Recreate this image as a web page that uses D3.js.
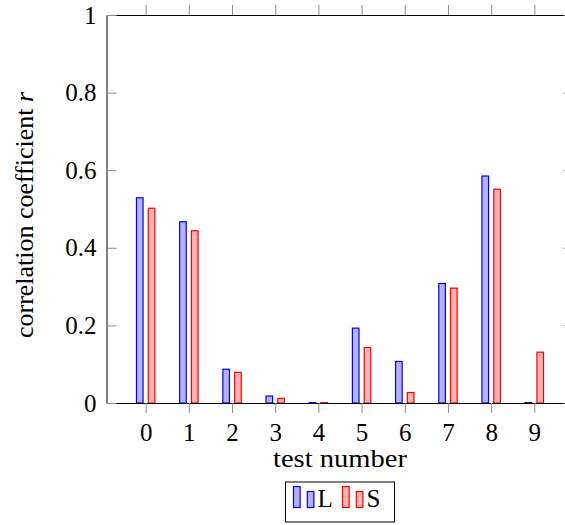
<!DOCTYPE html>
<html>
<head>
<meta charset="utf-8">
<script src="https://cdn.jsdelivr.net/npm/d3@7"></script>
<style>
  body { margin: 0; background: #fff; }
  svg text { font-family: 'Liberation Serif', 'Times New Roman', 'DejaVu Serif', serif; fill: #000; }
</style>
</head>
<body>
<svg id="chart" width="565" height="525"></svg>
<script>
// data
const tests = [0, 1, 2, 3, 4, 5, 6, 7, 8, 9]
const seriesNames = ['L', 'S']
const valuesL = [0.529, 0.467, 0.087, 0.018, 0.001, 0.193, 0.107, 0.308, 0.585, 0.001]
const valuesS = [0.502, 0.444, 0.079, 0.012, 0.001, 0.143, 0.027, 0.296, 0.551, 0.131]
const yTicks = [0, 0.2, 0.4, 0.6, 0.8, 1]

const colors = {
  L: { stroke: '#0000ff', fill: '#b3b3ff' },
  S: { stroke: '#ff0000', fill: '#ffb3b3' }
}

const svg = d3.select('#chart')
const plotLeft = 106.5
const plotRight = 573.5
const plotTop = 15
const plotBottom = 403

const x = d3.scaleLinear().domain([-0.907, 9.907]).range([plotLeft, plotRight])
const y = d3.scaleLinear().domain([0, 1]).range([plotBottom, plotTop])
const xSub = d3.scaleBand().domain(seriesNames).range([-9.2, 9.2]).paddingInner(0.44)

const tickColor = '#8c8c8c'
const fontSize = '25px'
const serif = "'Liberation Serif', 'Times New Roman', 'DejaVu Serif', serif"

// bars
const data = tests.map((t, i) => ({ t, L: valuesL[i], S: valuesS[i] }))
seriesNames.forEach(s => {
  svg.append('g')
    .selectAll('rect')
    .data(data)
    .enter().append('rect')
    .attr('x', d => x(d.t) + xSub(s))
    .attr('width', xSub.bandwidth())
    .attr('y', d => y(d[s]))
    .attr('height', d => y(0) - y(d[s]))
    .style('fill', colors[s].fill)
    .style('stroke', colors[s].stroke)
    .style('stroke-width', 1.2)
})

// axes
const gBottom = svg.append('g')
  .attr('transform', `translate(0,${plotBottom})`)
  .call(d3.axisBottom(x).tickValues(tests).tickFormat(d3.format('d'))
    .tickSizeInner(10).tickSizeOuter(0).tickPadding(10))
const gTop = svg.append('g')
  .attr('transform', `translate(0,${plotTop})`)
  .call(d3.axisTop(x).tickValues(tests).tickFormat('')
    .tickSizeInner(10).tickSizeOuter(0))
const gLeft = svg.append('g')
  .attr('transform', `translate(${plotLeft},0)`)
  .call(d3.axisLeft(y).tickValues(yTicks).tickFormat(d3.format('~g'))
    .tickSizeInner(-10).tickSizeOuter(0).tickPadding(10))
const gRight = svg.append('g')
  .attr('transform', `translate(${plotRight},0)`)
  .call(d3.axisRight(y).tickValues(yTicks).tickFormat('')
    .tickSizeInner(-10).tickSizeOuter(0))

;[gBottom, gTop, gLeft, gRight].forEach(g => {
  g.attr('font-family', serif)
  g.select('.domain').style('stroke', '#000').style('stroke-width', 1)
  g.selectAll('.tick line').style('stroke', tickColor).style('stroke-width', 1)
  g.selectAll('.tick text').style('font-family', serif).style('font-size', fontSize).style('fill', '#000')
})

// axis labels (stretched a bit to the width of the original TeX font)
svg.append('text')
  .attr('x', (plotLeft + plotRight) / 2)
  .attr('y', 467)
  .attr('text-anchor', 'middle')
  .attr('textLength', 134)
  .attr('lengthAdjust', 'spacingAndGlyphs')
  .style('font-family', serif)
  .style('font-size', fontSize)
  .text('test number')

const yl = svg.append('text')
  .attr('transform', `translate(33,${(plotTop + plotBottom) / 2 + 6}) rotate(-90)`)
  .attr('text-anchor', 'middle')
  .attr('textLength', 246)
  .attr('lengthAdjust', 'spacingAndGlyphs')
  .style('font-family', serif)
  .style('font-size', fontSize)
yl.append('tspan').text('correlation coefficient ')
yl.append('tspan').style('font-style', 'italic').text('r')

// legend
const legend = svg.append('g')
legend.append('rect')
  .attr('x', 285.5).attr('y', 482)
  .attr('width', 109).attr('height', 40)
  .style('fill', '#fff').style('stroke', '#000').style('stroke-width', 1)

const legendX = { L: 293.5, S: 342.5 }
seriesNames.forEach(s => {
  const g = legend.append('g').attr('transform', `translate(${legendX[s]},0)`)
  g.append('rect').attr('x', 0).attr('y', 486.5).attr('width', 6.6).attr('height', 21)
    .style('fill', colors[s].fill).style('stroke', colors[s].stroke).style('stroke-width', 1.2)
  g.append('rect').attr('x', 13.8).attr('y', 491.5).attr('width', 6.6).attr('height', 16)
    .style('fill', colors[s].fill).style('stroke', colors[s].stroke).style('stroke-width', 1.2)
  g.append('text').attr('x', 24).attr('y', 507)
    .style('font-family', serif)
    .style('font-size', fontSize)
    .text(s)
})
</script>
</body>
</html>
